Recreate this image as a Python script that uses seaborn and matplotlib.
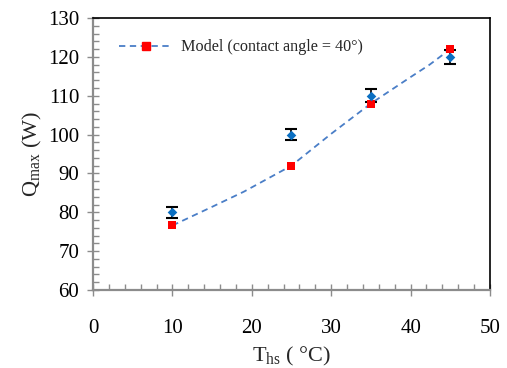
import matplotlib
matplotlib.use("Agg")
import matplotlib.pyplot as plt
from matplotlib.lines import Line2D
from matplotlib.ticker import MultipleLocator
import seaborn as sns
import pandas as pd

# Experimental maximum heat load with measurement uncertainty
exp_temp = [10, 25, 35, 45]
exp_qmax = [80.0, 100.0, 110.0, 120.0]
exp_err = [1.4, 1.5, 1.7, 1.8]

# Model predictions (contact angle = 40 deg)
model_temp = [10, 25, 35, 45]
model_qmax = [76.6, 92.0, 108.0, 122.0]

# Model curve
curve_temp = [10, 15, 19, 25, 30, 35, 40, 42.4, 45]
curve_qmax = [76.6, 81.4, 85.3, 92.0, 100.2, 108.0, 114.8, 118.0, 122.0]

x_ticks = [0, 10, 20, 30, 40, 50]
y_ticks = [60, 70, 80, 90, 100, 110, 120, 130]

sns.set_theme(style="white")
plt.rcParams["font.family"] = ["Liberation Serif", "DejaVu Serif"]
plt.rcParams["mathtext.fontset"] = "custom"
plt.rcParams["mathtext.rm"] = "Liberation Serif"
plt.rcParams["mathtext.it"] = "Liberation Serif:italic"

fig = plt.figure(figsize=(5.07, 3.68), dpi=100)
ax = fig.add_axes([0.1834, 0.212, 0.783, 0.739])

line_color = "#4A7EC7"
diamond_color = "#0A6FC2"
red = "#FF0000"

curve_df = pd.DataFrame({"T": curve_temp, "Q": curve_qmax})
sns.lineplot(data=curve_df, x="T", y="Q", ax=ax, color=line_color,
             linewidth=1.3, linestyle=(0, (3.5, 2.5)), zorder=2)

model_df = pd.DataFrame({"T": model_temp, "Q": model_qmax})
sns.scatterplot(data=model_df, x="T", y="Q", ax=ax, marker="s", s=30,
                color=red, edgecolor=red, linewidth=0, zorder=4)

ax.errorbar(exp_temp, exp_qmax, yerr=exp_err, fmt="none", ecolor="black",
            elinewidth=1.2, capsize=4, capthick=1.5, zorder=3)
exp_df = pd.DataFrame({"T": exp_temp, "Q": exp_qmax})
sns.scatterplot(data=exp_df, x="T", y="Q", ax=ax, marker="D", s=24,
                color=diamond_color, edgecolor=diamond_color, linewidth=0,
                zorder=5)

ax.set_xlim(0, 50)
ax.set_ylim(60, 130)
ax.set_xticks(x_ticks)
ax.set_yticks(y_ticks)
ax.xaxis.set_minor_locator(MultipleLocator(2))
ax.yaxis.set_minor_locator(MultipleLocator(2))

gray = "#8C8C8C"
for side in ("left", "bottom"):
    ax.spines[side].set_color(gray)
    ax.spines[side].set_linewidth(1.6)
for side in ("top", "right"):
    ax.spines[side].set_color("black")
    ax.spines[side].set_linewidth(1.2)

ax.tick_params(which="both", bottom=True, left=True, top=False, right=False)
ax.tick_params(which="major", direction="inout", length=8, width=1.0,
               color=gray, labelsize=15, labelcolor="black", pad=6)
ax.tick_params(which="minor", direction="in", length=4, width=1.0,
               color=gray)
ax.tick_params(axis="x", which="major", pad=17)

ax.set_xlabel("T$_{\\mathrm{hs}}$ ( \u00b0C)", fontsize=16, labelpad=5)
ax.set_ylabel("Q$_{\\mathrm{max}}$ (W)", fontsize=16, labelpad=3)

handle = Line2D([], [], color=line_color, linewidth=1.3,
                linestyle=(0, (3.5, 2.5)), marker="s", markersize=5.5,
                markerfacecolor=red, markeredgecolor=red)
ax.legend([handle], ["Model (contact angle = 40\u00b0)"], loc="upper left",
          bbox_to_anchor=(0.03, 0.975), frameon=False, fontsize=11.6,
          handlelength=3.3, handletextpad=0.5)

fig.savefig("out.png", dpi=100)
